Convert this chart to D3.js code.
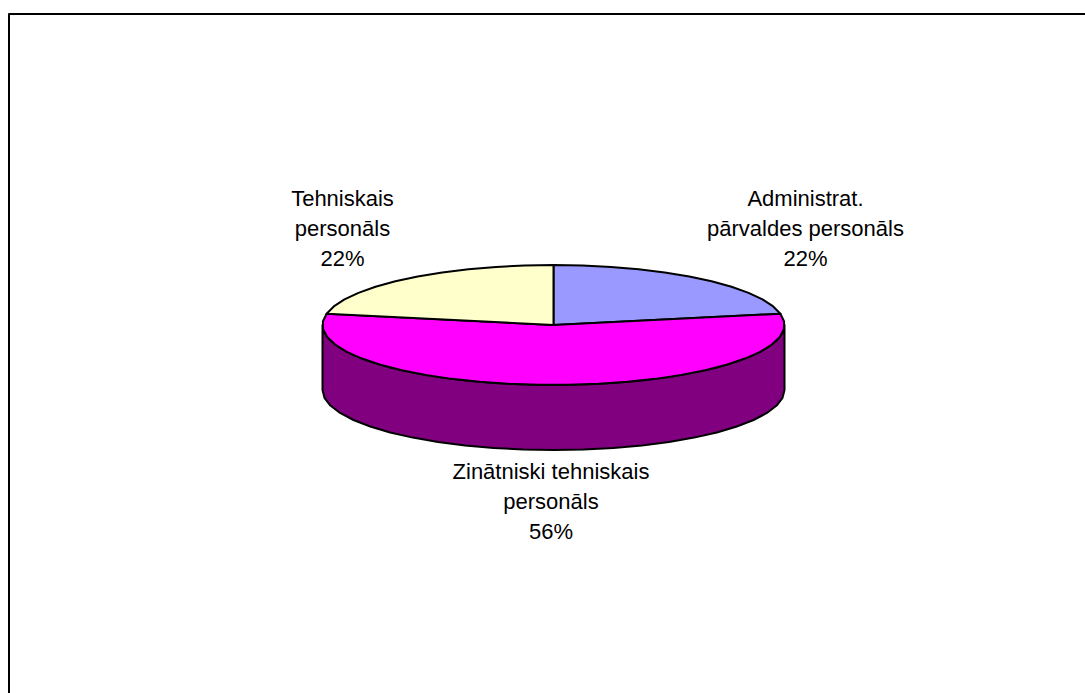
<!DOCTYPE html>
<html>
<head>
    <meta charset="utf-8">
    <title>Personāls</title>
    <script src="https://d3js.org/d3.v7.min.js"></script>
    <style type="text/css">
        html, body { margin: 0; padding: 0; background: #fff; overflow: hidden; }
        svg { display: block; }
        text { font-family: "Liberation Sans", Arial, sans-serif; font-size: 22px; fill: #000; text-anchor: middle; }
        path { stroke: #000; stroke-width: 2px; stroke-linejoin: round; }
    </style>
</head>
<body>
    <script type="text/javascript">
        // order is clockwise from 12 o'clock
        let categories = ["Administrat. pārvaldes personāls", "Zinātniski tehniskais personāls", "Tehniskais personāls"];
        let values = [22, 56, 22];
        let labels = [
            ["Administrat.", "pārvaldes personāls", "22%"],
            ["Zinātniski tehniskais", "personāls", "56%"],
            ["Tehniskais", "personāls", "22%"]
        ];
        let colors = ["#9999ff", "#ff00ff", "#ffffcc"];
        let wallColor = "#800080";

        let width = 1085, height = 693;
        let cx = 553.5, cy = 325, rx = 231, ry = 60, depth = 65;

        let svg = d3.select("body").append("svg")
            .attr("width", width)
            .attr("height", height);

        // frame runs off the picture on the right and at the bottom
        svg.append("path")
            .attr("d", "M9," + height + "V14H" + width)
            .attr("fill", "none");

        let pie = d3.pie().sort(null);
        let arcs = pie(values);

        function px(a) { return cx + rx * Math.sin(a); }
        function py(a) { return cy - ry * Math.cos(a); }

        // outer side of the cylinder, visible from 3 o'clock to 9 o'clock
        let step = Math.PI / 24;
        let front = d3.range(Math.PI / 2, 3 * Math.PI / 2 + step / 2, step);
        let wall = d3.area()
            .x(a => px(a))
            .y0(a => py(a))
            .y1(a => py(a) + depth);

        svg.append("path")
            .attr("d", wall(front))
            .attr("fill", wallColor);

        // top of the pie, flat slices squashed to an ellipse
        let line = d3.line().x(a => px(a)).y(a => py(a));
        svg.selectAll("path.slice")
            .data(arcs)
            .enter().append("path")
            .attr("class", "slice")
            .attr("fill", (d, i) => colors[i])
            .attr("d", d => {
                let n = Math.ceil((d.endAngle - d.startAngle) / step);
                let pts = d3.range(n + 1).map(k => d.startAngle + (d.endAngle - d.startAngle) * k / n);
                return "M" + cx + "," + cy + "L" + line(pts).slice(1) + "Z";
            });

        let labelPos = [[805.5, 206], [551, 479], [342.5, 206]];

        labels.forEach((lines, i) => {
            svg.append("text")
                .attr("transform", "translate(" + labelPos[i][0] + "," + labelPos[i][1] + ")")
                .selectAll("tspan")
                .data(lines)
                .enter().append("tspan")
                .attr("x", 0)
                .attr("y", (d, j) => j * 30)
                .text(d => d);
        });
    </script>
</body>
</html>
